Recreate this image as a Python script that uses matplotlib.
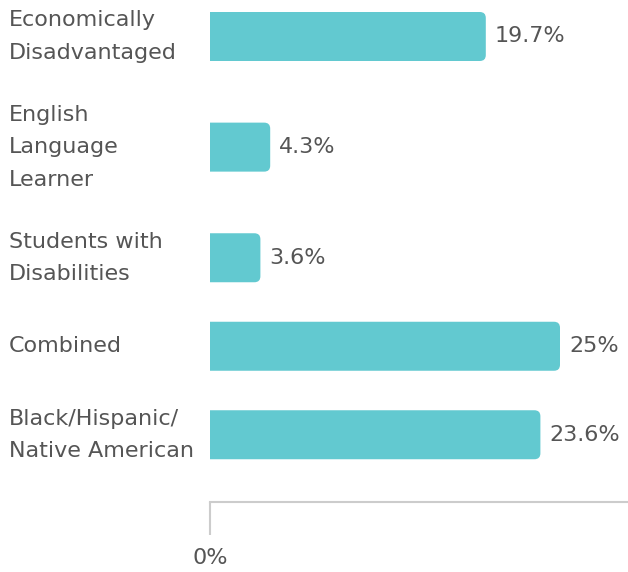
import matplotlib
matplotlib.use("Agg")
import matplotlib.pyplot as plt
from matplotlib.patches import PathPatch
from matplotlib.path import Path

categories = ["Economically\nDisadvantaged", "English\nLanguage\nLearner",
              "Students with\nDisabilities", "Combined",
              "Black/Hispanic/\nNative American"]
values = [19.7, 4.3, 3.6, 25.0, 23.6]
value_labels = ["19.7%", "4.3%", "3.6%", "25%", "23.6%"]
x_ticks = [0]
x_tick_labels = ["0%"]

BAR = "#62C9D0"
TEXT = "#555555"
AXIS = "#CCCCCC"
FONT = "DejaVu Sans"
FS = 16

W, H, DPI = 628, 572, 100
fig = plt.figure(figsize=(W / DPI, H / DPI), dpi=DPI)

# plot area: left edge at 210 px, bottom axis line at 502 px
left_px, right_px, bottom_px = 210, 630, 502
ax = fig.add_axes([left_px / W, 1 - bottom_px / H, (right_px - left_px) / W, bottom_px / H])

# rows holding a three-line label get extra room
weights = [1.5 if c.count("\n") >= 2 else 1.0 for c in categories]
centers = [0.0]
for i in range(1, len(weights)):
    centers.append(centers[-1] + (weights[i - 1] + weights[i]) / 2)

unit_px = 88.5
x_max = 30
ax.set_xlim(0, x_max)
ax.set_ylim((bottom_px - 36.5) / unit_px, -36.5 / unit_px)

bar_h = 49 / unit_px
x_per_px = x_max / (right_px - left_px)
y_per_px = 1 / unit_px
radius_px = 6


def right_rounded_bar(v, yc, h):
    """Bar path with a flat left end and rounded right corners."""
    rx, ry = radius_px * x_per_px, radius_px * y_per_px
    y0, y1 = yc - h / 2, yc + h / 2
    verts = [(0, y0), (v - rx, y0), (v, y0), (v, y0 + ry),
             (v, y1 - ry), (v, y1), (v - rx, y1), (0, y1), (0, y0)]
    codes = [Path.MOVETO, Path.LINETO, Path.CURVE3, Path.CURVE3,
             Path.LINETO, Path.CURVE3, Path.CURVE3, Path.LINETO, Path.CLOSEPOLY]
    return Path(verts, codes)


for c, v in zip(centers, values):
    ax.add_patch(PathPatch(right_rounded_bar(v, c, bar_h), fc=BAR, ec="none"))

for c, v, lab in zip(centers, values, value_labels):
    ax.annotate(lab, (v, c), xytext=(9, 0), textcoords="offset pixels",
                ha="left", va="center", fontsize=FS, color=TEXT, family=FONT)

for c, cat in zip(centers, categories):
    ax.text(-201 * x_per_px, c, cat, ha="left", va="center", fontsize=FS,
            color=TEXT, family=FONT, linespacing=1.78)

for s in ["top", "right", "left"]:
    ax.spines[s].set_visible(False)
ax.spines["bottom"].set_color(AXIS)
ax.spines["bottom"].set_linewidth(1.5)
ax.set_yticks([])
ax.set_xticks(x_ticks)
ax.set_xticklabels(x_tick_labels, fontsize=FS, color=TEXT, family=FONT)
ax.tick_params(axis="x", length=24, width=1.5, color=AXIS, pad=9)
ax.patch.set_visible(False)

fig.savefig("out.png", dpi=DPI)
